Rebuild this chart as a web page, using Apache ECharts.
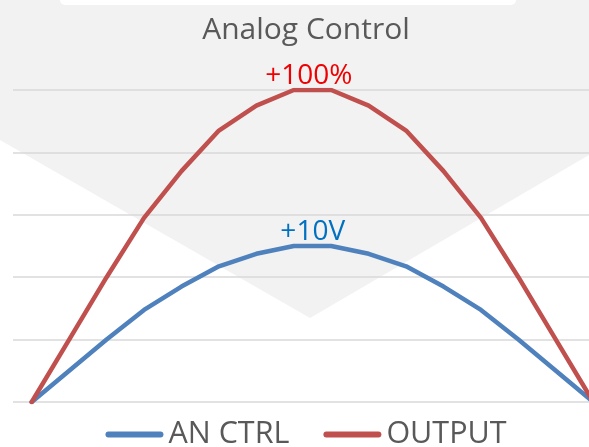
<!DOCTYPE html>
<html>
<head>
<meta charset="utf-8">
<title>Analog Control</title>
<script src="https://cdn.jsdelivr.net/npm/echarts@6/dist/echarts.min.js"></script>
<style>
  html, body {
    margin: 0;
    padding: 0;
    background: #fff;
    overflow: hidden;
  }
  /* the plot runs a little past the right edge of the window, as in the source */
  #chart {
    width: 612px;
    height: 447px;
  }
</style>
</head>
<body>
<div id="chart"></div>
<script>
// values, 16 steps across the sweep
const steps = ['1', '2', '3', '4', '5', '6', '7', '8', '9', '10', '11', '12', '13', '14', '15', '16']
const anCtrl = [0, 10, 20, 29.5, 37, 43.5, 47.5, 50, 50, 47.5, 43.5, 37, 29.5, 20, 10, 0]
const output = [0, 20, 40, 59, 74, 87, 95, 100, 100, 95, 87, 74, 59, 40, 20, 0]
const seriesNames = ['AN CTRL', 'OUTPUT']
const peakLabels = ['+10V', '+100%']
const peakIndex = 7
const yTicks = [0, 20, 40, 60, 80, 100]

const FONT = '"Open Sans", sans-serif'
const BLUE = '#4F81BD'
const RED = '#C0504D'

const withPeakLabel = (values, text, color, dx) => {
  return values.map((v, i) => {
    if (i !== peakIndex) {
      return v
    }
    return {
      value: v,
      label: {
        show: true,
        // sits over the flat top, between this point and the next one
        position: [dx, 0],
        align: 'center',
        verticalAlign: 'bottom',
        formatter: text,
        color,
        fontFamily: FONT,
        fontSize: 28,
      },
    }
  })
}

const lineSeries = (name, values, color, label, labelColor, dx) => {
  return {
    type: 'line',
    name,
    data: withPeakLabel(values, label, labelColor, dx),
    // labels need symbols to hang on, so keep them but make them tiny
    symbol: 'circle',
    symbolSize: 0.1,
    showSymbol: true,
    showAllSymbol: true,
    lineStyle: {
      color,
      width: 4.5,
      cap: 'round',
      join: 'round',
    },
    itemStyle: {
      color,
    },
    label: {
      show: false,
    },
    labelLayout: {
      hideOverlap: false,
    },
  }
}

const chart = echarts.init(document.getElementById('chart'), null, { renderer: 'canvas' })

chart.setOption({
  animation: false,
  backgroundColor: '#fff',
  // the pale chevron behind the plot
  graphic: [
    {
      type: 'polygon',
      silent: true,
      z: -10,
      shape: {
        points: [[0, 0], [589, 0], [589, 155], [310, 318], [0, 140]],
      },
      style: {
        fill: '#F2F2F2',
      },
    },
    {
      type: 'rect',
      silent: true,
      z: -9,
      shape: { x: 60, y: -6, width: 456, height: 11, r: 5 },
      style: {
        fill: '#FFFFFF',
      },
    },
  ],
  title: {
    text: 'Analog Control',
    left: 'center',
    top: 15,
    padding: [0, 0, 0, 6],
    textStyle: {
      color: '#595959',
      fontFamily: FONT,
      fontSize: 30,
      fontWeight: 'normal',
    },
  },
  legend: {
    data: seriesNames,
    left: 'center',
    top: 419,
    padding: [0, 0, 0, 8],
    itemWidth: 58,
    itemHeight: 6,
    itemGap: 34,
    icon: 'path://M3,0 L55,0 A3,3 0 0 1 55,6 L3,6 A3,3 0 0 1 3,0 Z',
    textStyle: {
      color: '#595959',
      fontFamily: FONT,
      fontSize: 30.5,
    },
  },
  grid: {
    left: 13,
    right: 0,
    top: 90,
    bottom: 45,
  },
  xAxis: {
    type: 'category',
    data: steps,
    boundaryGap: true,
    axisLine: { show: false },
    axisTick: { show: false },
    axisLabel: { show: false },
    splitLine: { show: false },
  },
  yAxis: {
    type: 'value',
    min: yTicks[0],
    max: yTicks[yTicks.length - 1],
    interval: yTicks[1] - yTicks[0],
    axisLine: { show: false },
    axisTick: { show: false },
    axisLabel: { show: false },
    splitLine: {
      show: true,
      lineStyle: {
        color: '#D9D9D9',
        width: 1.5,
      },
    },
  },
  series: [
    lineSeries(seriesNames[0], anCtrl, BLUE, peakLabels[0], '#0070C0', 19),
    lineSeries(seriesNames[1], output, RED, peakLabels[1], '#F00000', 15),
  ],
})
</script>
</body>
</html>
